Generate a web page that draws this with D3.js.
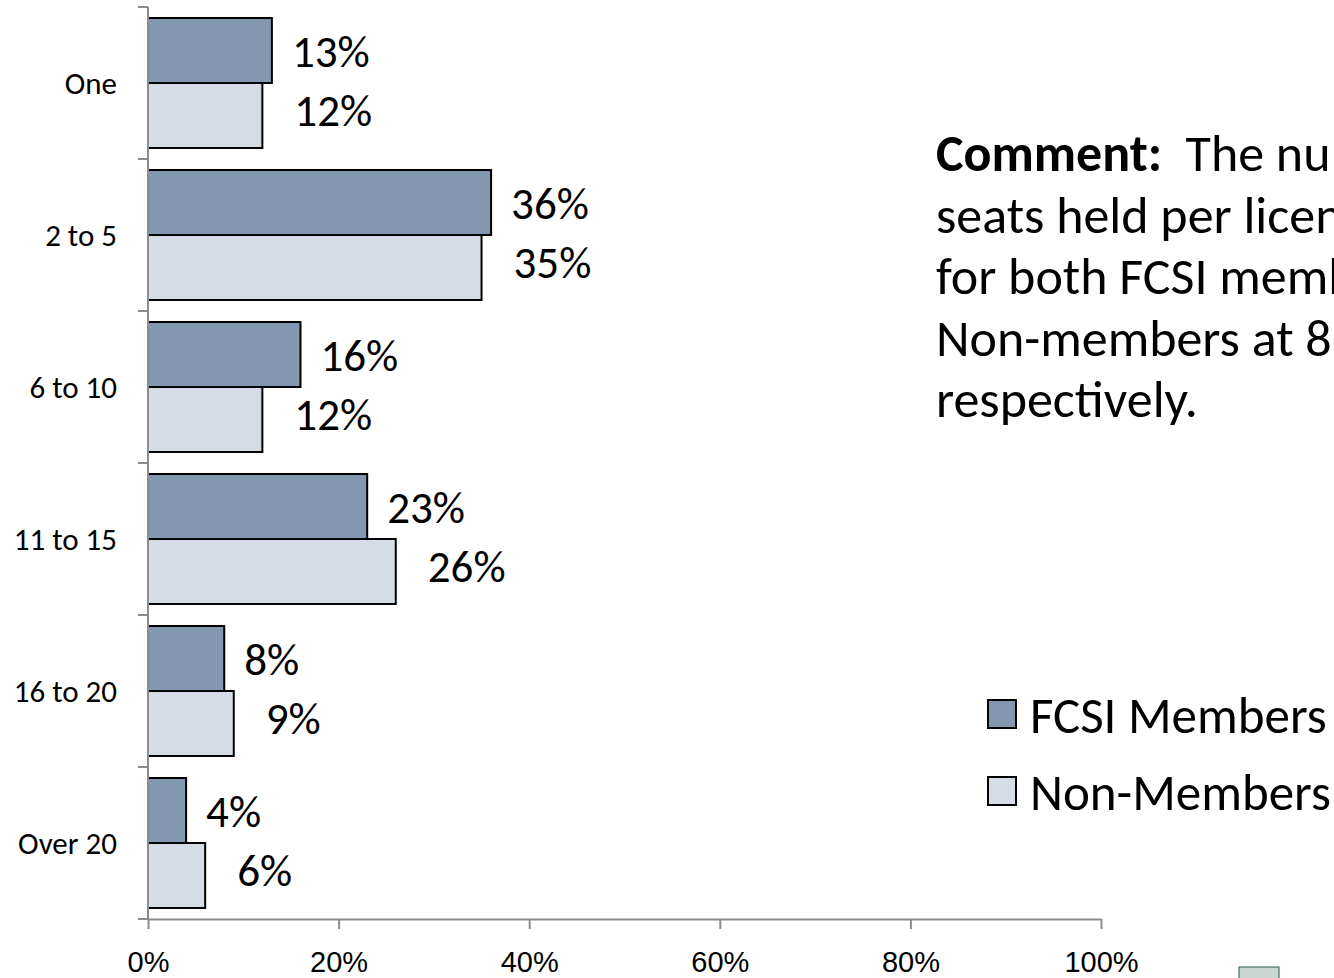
<!DOCTYPE html>
<html>
<head>
<meta charset="utf-8">
<script src="https://cdn.jsdelivr.net/npm/d3@7"></script>
<style>
  body { margin: 0; background: #fff; }
  svg { display: block; font-family: Carlito, Lato, sans-serif; }
  .axis path, .axis line { stroke: #8c8c8c; stroke-width: 2; }
</style>
</head>
<body>
<div id="chart"></div>
<script>
var categories = ["One", "2 to 5", "6 to 10", "11 to 15", "16 to 20", "Over 20"];
var seriesNames = ["FCSI Members", "Non-Members"];
var fcsiValues = [0.13, 0.36, 0.16, 0.23, 0.08, 0.04];
var nonValues = [0.12, 0.35, 0.12, 0.26, 0.09, 0.06];
var xTicks = [0, 0.2, 0.4, 0.6, 0.8, 1.0];
var commentLines = [
  ["Comment:", "  The number of"],
  ["", "seats held per license is similar"],
  ["", "for both FCSI members and"],
  ["", "Non-members at 8.5 and 8.6"],
  ["", "respectively."]
];

var width = 1334, height = 978;
var colors = ["#8497b0", "#d6dce5"];

var svg = d3.select("#chart").append("svg")
    .attr("width", width)
    .attr("height", height);

var x = d3.scaleLinear()
    .domain([0, 1])
    .range([148, 1101]);

var y = d3.scaleBand()
    .domain(categories)
    .range([7, 919])
    .paddingInner(0.145)
    .paddingOuter(0.0725);

var ySub = d3.scaleBand()
    .domain(seriesNames)
    .range([0, y.bandwidth()]);

var rows = categories.map((c, i) => ({ cat: c, vals: [fcsiValues[i], nonValues[i]] }));

// bars
var groups = svg.append("g").selectAll("g")
    .data(rows)
    .enter().append("g")
    .attr("transform", d => "translate(0," + y(d.cat) + ")");

groups.selectAll("rect")
    .data(d => d.vals.map((v, j) => ({ v: v, s: seriesNames[j], j: j })))
    .enter().append("rect")
    .attr("x", x(0))
    .attr("y", d => ySub(d.s))
    .attr("width", d => x(d.v) - x(0))
    .attr("height", ySub.bandwidth())
    .style("fill", d => colors[d.j])
    .style("stroke", "#000")
    .style("stroke-width", 2);

groups.selectAll("text")
    .data(d => d.vals.map((v, j) => ({ v: v, s: seriesNames[j], j: j })))
    .enter().append("text")
    .attr("x", d => x(d.v) + (d.j == 0 ? 20 : 32))
    .attr("y", d => ySub(d.s) + ySub.bandwidth() / 2 + (d.j == 0 ? 1 : -5))
    .attr("dy", "0.35em")
    .style("font-size", "45px")
    .style("fill", "#000")
    .text(d => Math.round(d.v * 100) + "%");

// x axis
var xAxis = svg.append("g")
    .attr("class", "axis")
    .attr("transform", "translate(0,919)")
    .call(d3.axisBottom(x).tickValues(xTicks).tickFormat(d3.format(".0%")).tickSize(10).tickSizeOuter(0).tickPadding(22));
xAxis.selectAll("text")
    .style("font-size", "29px")
    .style("fill", "#000");

// y axis: ticks on band boundaries
var yAxis = svg.append("g")
    .attr("class", "axis");
yAxis.append("line")
    .attr("x1", x(0)).attr("x2", x(0))
    .attr("y1", 7).attr("y2", 919);
var bounds = categories.map(c => y(c) - y.step() * y.paddingInner() / 2);
bounds.push(919);
yAxis.selectAll(".tk")
    .data(bounds)
    .enter().append("line")
    .attr("class", "tk")
    .attr("x1", x(0) - 10).attr("x2", x(0))
    .attr("y1", d => d).attr("y2", d => d);

svg.append("g").selectAll("text")
    .data(categories)
    .enter().append("text")
    .attr("x", 117)
    .attr("y", d => y(d) + y.bandwidth() / 2)
    .attr("dy", "0.35em")
    .attr("text-anchor", "end")
    .style("font-size", "31px")
    .text(d => d);

// comment (runs past the right edge, as in the slide)
var comment = svg.append("text")
    .attr("x", 936)
    .style("font-size", "52px")
    .style("fill", "#000");
commentLines.forEach((l, i) => {
  var line = comment.append("tspan")
      .attr("x", 936)
      .attr("y", 171 + i * 61.5);
  if (l[0]) line.append("tspan").style("font-weight", "bold").text(l[0]);
  line.append("tspan").attr("xml:space", "preserve").text(l[1]);
});

// legend
var legend = svg.append("g").selectAll("g")
    .data(seriesNames)
    .enter().append("g")
    .attr("transform", (d, i) => "translate(988," + (700 + i * 77) + ")");
legend.append("rect")
    .attr("width", 28)
    .attr("height", 28)
    .style("fill", (d, i) => colors[i])
    .style("stroke", "#000")
    .style("stroke-width", 2);
legend.append("text")
    .attr("x", 42)
    .attr("y", 15)
    .attr("dy", "0.35em")
    .style("font-size", "51px")
    .text(d => d);

// small slide artifact at bottom right
svg.append("rect")
    .attr("x", 1239).attr("y", 967)
    .attr("width", 40).attr("height", 14)
    .style("fill", "#c9d8d2")
    .style("stroke", "#2f5a48")
    .style("stroke-width", 1);
</script>
</body>
</html>
